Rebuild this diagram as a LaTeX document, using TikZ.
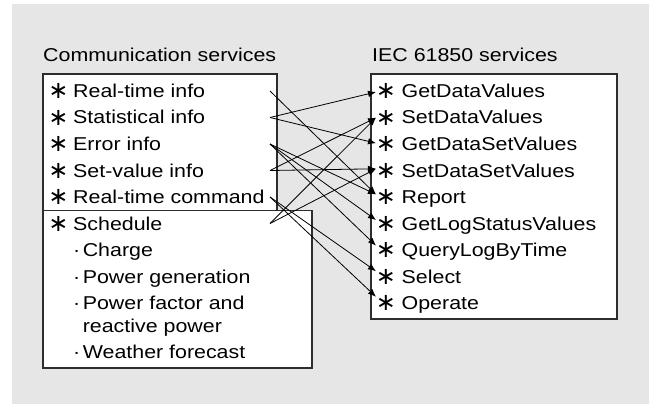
\documentclass[tikz,border=0pt]{standalone}
\usepackage{fontspec}
\setmainfont{Liberation Sans}[FakeStretch=1.15]
\newfontfamily\starfont{DejaVu Sans}
\usetikzlibrary{arrows.meta}
\definecolor{bggray}{RGB}{230,230,230}
\definecolor{boxline}{RGB}{45,45,45}
\newcommand{\bul}{·\kern2.5pt}

\begin{document}
\begin{tikzpicture}[x=1pt, y=-1pt,
    txt/.style={anchor=base west, inner sep=0pt, font=\fontsize{18.6}{23.4}\selectfont},
    star/.style={inner sep=0pt, font=\starfont\fontsize{24}{24}\selectfont},
    box/.style={draw=boxline, fill=white, line width=1.1pt},
    link/.style={line width=0.8pt, -{Latex[length=8pt,width=6.5pt]}}]
    \fill[bggray] (12,4) rectangle (649,404);
    \useasboundingbox (0,0) rectangle (649,404);

    % boxes
    \draw[box] (43,74) rectangle (277,210.5);
    \draw[box] (43,210.5) rectangle (312,368);
    \draw[box] (371,74) rectangle (617,319);

    \node[txt] (comm) at (43,61.5) {Communication services};
    \node[txt] (iec) at (372,61.5) {IEC 61850 services};

    % communication services
    \foreach \name/\label [count=\i] in {rti/Real-time info, sti/Statistical info, eri/Error info,
        svi/Set-value info, rtc/Real-time command, sch/Schedule} {
        \node[txt] (\name) at (73,{97.5+26.5*(\i-1)}) {\label};
        \node[star] (\name-s) at (58.5,{91+26.5*(\i-1)}) {∗};
        \coordinate (\name-o) at (270,{91+26.5*(\i-1)});
    }
    \node[txt] (chg) at (73,256.6) {\bul Charge};
    \node[txt] (pgen) at (73,283) {\bul Power generation};
    \node[txt] (pfac) at (73,309.3) {\bul Power factor and};
    \node[txt] (rpow) at (73,332.7) {\hphantom{\bul}reactive power};
    \node[txt] (wfc) at (73,358.5) {\bul Weather forecast};

    % IEC 61850 services
    \foreach \name/\label [count=\i] in {gdv/GetDataValues, sdv/SetDataValues, gdsv/GetDataSetValues,
        sdsv/SetDataSetValues, rep/Report, glsv/GetLogStatusValues, qlbt/QueryLogByTime,
        sel/Select, ope/Operate} {
        \node[txt] (\name) at (401.5,{97.5+26.5*(\i-1)}) {\label};
        \node[star] (\name-s) at (386,{91+26.5*(\i-1)}) {∗};
        \coordinate (\name-i) at (376,{92+25.6*(\i-1)});
    }

    % mapping
    \draw[link] (rti-o) -- (rep-i);
    \draw[link] (sti-o) -- (gdv-i);
    \draw[link] (sti-o) -- (gdsv-i);
    \draw[link] (eri-o) -- (rep-i);
    \draw[link] (eri-o) -- (glsv-i);
    \draw[link] (eri-o) -- (qlbt-i);
    \draw[link] (svi-o) -- (sdv-i);
    \draw[link] (svi-o) -- (sdsv-i);
    \draw[link] (rtc-o) -- (sel-i);
    \draw[link] (rtc-o) -- (ope-i);
    \draw[link] (sch-o) -- (sdv-i);
    \draw[link] (sch-o) -- (sdsv-i);
\end{tikzpicture}
\end{document}
